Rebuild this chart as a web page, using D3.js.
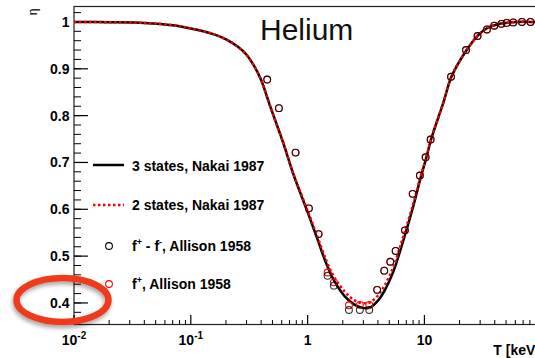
<!DOCTYPE html>
<html><head><meta charset="utf-8">
<script src="https://cdn.jsdelivr.net/npm/d3@7"></script>
<style>
html,body{margin:0;padding:0;background:#fff;}
svg{display:block;}
text{font-family:"Liberation Sans",Arial,Helvetica,sans-serif;}
</style></head>
<body>
<svg id="chart" width="535" height="358"></svg>
<script>
// ---- data ----
const curveT =     [0.01, 0.02,  0.04, 0.07, 0.1,  0.156,0.2,  0.25, 0.3,  0.35, 0.4,  0.475,0.62, 0.75, 1.0,  1.2,  1.45, 1.7,  2.1,  2.5,  2.9,  3.4,  4.0,  4.6,  5.4,  6.5,  8.0,  9.3,  10.4, 11.4, 14.5, 17.1, 23,   28.9, 34,   44,   62,  90,  130];
const eta3States = [1.0,  0.9995,0.998, 0.993,0.986,0.974,0.963,0.948,0.930,0.905,0.876,0.822,0.741,0.677,0.594,0.540,0.483,0.446,0.413,0.397,0.390,0.390,0.405,0.428,0.466,0.528,0.605,0.668,0.711,0.749,0.827,0.884,0.940,0.972,0.986,0.996,1.0, 1.0, 1.0];
const eta2States = [1.0,  0.9995,0.998, 0.993,0.986,0.974,0.963,0.948,0.930,0.905,0.876,0.822,0.741,0.678,0.597,0.545,0.490,0.454,0.423,0.406,0.400,0.401,0.416,0.439,0.476,0.537,0.611,0.671,0.712,0.750,0.827,0.884,0.940,0.972,0.986,0.996,1.0, 1.0, 1.0];
const allisonT = [0.451,0.568,0.789,1.026,1.242,1.482,1.679,2.26,2.80,3.37,3.94,4.53,5.10,5.67,6.81,7.93,9.15,10.24,11.3,16.9,22.7,28.5,34.3,39.6,45.6,50.6,57.6,68.4,80.9];
const allisonDiff = [0.877,0.816,0.721,0.602,0.547,0.458,0.437,0.385,0.385,0.385,0.428,0.469,0.488,0.511,0.555,0.633,0.672,0.711,0.749,0.883,0.940,0.970,0.984,0.992,0.996,0.998,0.999,1.0,1.0];
const allisonFplus = [0.877,0.816,0.721,0.602,0.547,0.465,0.444,0.395,0.396,0.396,0.428,0.469,0.488,0.511,0.555,0.633,0.672,0.711,0.749,0.883,0.940,0.970,0.984,0.992,0.996,0.998,0.999,1.0,1.0];
const yTickValues = [0.4,0.5,0.6,0.7,0.8,0.9,1.0];
const yTickLabels = ["0.4","0.5","0.6","0.7","0.8","0.9","1"];
const xTickValues = [0.01,0.1,1,10];
const xTickLabels = [["10","-2"],["10","-1"],["1",""],["10",""]];
const legendLabels = ["3 states, Nakai 1987","2 states, Nakai 1987","f+ - f-, Allison 1958","f+, Allison 1958"];

// ---- layout ----
const svg = d3.select("#chart");
const L = 74, R = 552.9, T0 = 6.5, B = 324.5;
const x = d3.scaleLog().domain([0.01, Math.pow(10,2.1)]).range([L, R]);
const y = d3.scaleLinear().domain([0.354, 1.033]).range([B, T0]);

svg.append("defs").html(`
  <clipPath id="clip"><rect x="${L}" y="${T0}" width="${R-L}" height="${B-T0}"/></clipPath>
  <filter id="shadow" x="-30%" y="-50%" width="160%" height="200%">
    <feGaussianBlur in="SourceAlpha" stdDeviation="2"/>
    <feOffset dx="-1" dy="3" result="o"/>
    <feComponentTransfer><feFuncA type="linear" slope="0.35"/></feComponentTransfer>
    <feMerge><feMergeNode/><feMergeNode in="SourceGraphic"/></feMerge>
  </filter>`);

// frame
svg.append("rect").attr("x",L).attr("y",T0).attr("width",R-L).attr("height",B-T0)
  .attr("fill","none").attr("stroke","#222").attr("stroke-width",1.2);

// y ticks (inward)
const yMinor = d3.range(0.36, 1.031, 0.02);
svg.append("g").selectAll("line").data(yMinor).join("line")
  .attr("x1",L).attr("x2",L+7).attr("y1",d=>y(d)).attr("y2",d=>y(d))
  .attr("stroke","#000").attr("stroke-width",1);
svg.append("g").selectAll("line").data(yTickValues).join("line")
  .attr("x1",L).attr("x2",L+14).attr("y1",d=>y(d)).attr("y2",d=>y(d))
  .attr("stroke","#000").attr("stroke-width",1.2);
svg.append("g").selectAll("text").data(yTickValues).join("text")
  .attr("x",L-4.5).attr("y",d=>y(d)+5).attr("text-anchor","end")
  .attr("font-size",14).attr("font-weight","bold").text((d,i)=>yTickLabels[i]);

// x ticks
const xMinor = [];
for (let e=-2;e<=1;e++) for (let m=2;m<=9;m++) xMinor.push(m*Math.pow(10,e));
xMinor.push(100);
svg.append("g").selectAll("line").data(xMinor).join("line")
  .attr("x1",d=>x(d)).attr("x2",d=>x(d)).attr("y1",B).attr("y2",B-4.5)
  .attr("stroke","#000").attr("stroke-width",1);
svg.append("g").selectAll("line").data(xTickValues).join("line")
  .attr("x1",d=>x(d)).attr("x2",d=>x(d)).attr("y1",B).attr("y2",B-9.5)
  .attr("stroke","#000").attr("stroke-width",1.2);
const xl = svg.append("g").selectAll("text").data(xTickValues).join("text")
  .attr("x",d=>x(d)).attr("y",345).attr("text-anchor","middle")
  .attr("font-size",14).attr("font-weight","bold");
xl.append("tspan").text((d,i)=>xTickLabels[i][0]);
xl.append("tspan").attr("font-size",10).attr("dy",-6).text((d,i)=>xTickLabels[i][1]);

// axis titles
svg.append("text").attr("x",540).attr("y",355).attr("text-anchor","end")
  .attr("font-size",14).attr("font-weight","bold").text("T [keV]");
svg.append("text").attr("transform","translate(37,12) rotate(-90)")
  .attr("text-anchor","middle").attr("font-size",12).text("η");

// title inside
svg.append("text").attr("x",260).attr("y",40).attr("font-family","Lato, 'Open Sans', sans-serif")
  .attr("font-size",30).attr("fill","#111").text("Helium");

// curves
const plot = svg.append("g").attr("clip-path","url(#clip)");
const line = d3.line().x(d=>x(d[0])).y(d=>y(d[1])).curve(d3.curveCatmullRom.alpha(0.5));
plot.append("path").attr("d",line(d3.zip(curveT,eta3States)))
  .attr("fill","none").attr("stroke","#000").attr("stroke-width",2.5);
plot.append("path").attr("d",line(d3.zip(curveT,eta2States)))
  .attr("fill","none").attr("stroke","#ff0000").attr("stroke-width",2.5).attr("stroke-dasharray","2.5,2.5");

// points
plot.append("g").selectAll("circle").data(d3.zip(allisonT,allisonFplus)).join("circle")
  .attr("cx",d=>x(d[0])).attr("cy",d=>y(d[1])).attr("r",3.4)
  .attr("fill","none").attr("stroke","#ff0000").attr("stroke-width",1.1);
plot.append("g").selectAll("circle").data(d3.zip(allisonT,allisonDiff)).join("circle")
  .attr("cx",d=>x(d[0])).attr("cy",d=>y(d[1])).attr("r",3.4)
  .attr("fill","none").attr("stroke","#000").attr("stroke-opacity",0.8).attr("stroke-width",1.1);

// legend
const lg = svg.append("g");
lg.append("line").attr("x1",93).attr("x2",124).attr("y1",165).attr("y2",165)
  .attr("stroke","#000").attr("stroke-width",2.5);
lg.append("line").attr("x1",93).attr("x2",124).attr("y1",205).attr("y2",205)
  .attr("stroke","#ff0000").attr("stroke-width",2.5).attr("stroke-dasharray","2.5,2.5");
lg.append("circle").attr("cx",109).attr("cy",246).attr("r",3.4).attr("fill","none").attr("stroke","#000").attr("stroke-width",1.1);
lg.append("circle").attr("cx",109).attr("cy",284).attr("r",3.4).attr("fill","none").attr("stroke","#ff0000").attr("stroke-width",1.1);
lg.append("text").attr("x",132).attr("y",170.5).attr("font-size",14).attr("font-weight","bold").text(legendLabels[0]);
lg.append("text").attr("x",132).attr("y",210).attr("font-size",14).attr("font-weight","bold").text(legendLabels[1]);
const t3 = lg.append("text").attr("x",132).attr("y",250.5).attr("font-size",14).attr("font-weight","bold");
t3.append("tspan").text("f");
t3.append("tspan").attr("font-size",9).attr("dy",-6).text("+");
t3.append("tspan").attr("dy",6).text(" - f");
t3.append("tspan").attr("font-size",9).attr("dy",-6).text("-");
t3.append("tspan").attr("dy",6).text(", Allison 1958");
const t4 = lg.append("text").attr("x",132).attr("y",288.5).attr("font-size",14).attr("font-weight","bold");
t4.append("tspan").text("f");
t4.append("tspan").attr("font-size",9).attr("dy",-6).text("+");
t4.append("tspan").attr("dy",6).text(", Allison 1958");

// annotation ellipse
svg.append("ellipse").attr("cx",62.5).attr("cy",300).attr("rx",46).attr("ry",22)
  .attr("fill","none").attr("stroke","#ef3b1e").attr("stroke-width",6.5)
  .attr("filter","url(#shadow)");
</script>
</body></html>
